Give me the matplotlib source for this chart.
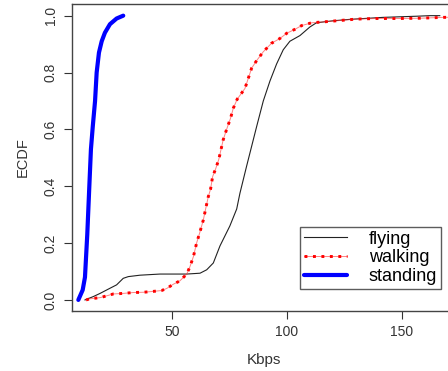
import matplotlib
matplotlib.use("Agg")
import matplotlib.pyplot as plt

plt.rcParams['font.family'] = ['Liberation Sans', 'DejaVu Sans']

# ECDF curves (Kbps, fraction)
standing_x = [9.0, 10.9, 11.9, 12.9, 13.8, 14.5, 15.3, 16.3, 17.0, 18.0, 19.2, 20.6, 22.8, 25.7, 28.6]
standing_y = [0.0, 0.035, 0.08, 0.23, 0.40, 0.53, 0.61, 0.70, 0.80, 0.87, 0.91, 0.94, 0.97, 0.99, 1.0]

flying_x = [11.9, 15.6, 18.5, 22.8, 25.7, 28.6, 30.8, 35.9, 44.6, 56.3, 62.1, 65.0, 67.9, 70.8,
            75.1, 78.1, 79.5, 82.4, 84.6, 86.8, 89.7, 92.6, 95.5, 98.4, 101.3, 105.7, 110.0,
            112.9, 120.2, 127.5, 142.0, 156.5, 162.4, 166.7]
flying_y = [0.0, 0.012, 0.023, 0.041, 0.053, 0.076, 0.082, 0.087, 0.091, 0.091, 0.094, 0.106, 0.13,
            0.19, 0.26, 0.32, 0.375, 0.47, 0.54, 0.61, 0.70, 0.77, 0.83, 0.88, 0.91, 0.93, 0.96,
            0.975, 0.982, 0.987, 0.994, 0.998, 1.0, 1.0]

walking_x = [12.4, 14.1, 18.5, 24.3, 28.6, 33.0, 37.4, 41.7, 45.3, 47.5, 50.4, 53.3, 56.3, 57.7,
             59.2, 60.6, 62.1, 63.5, 64.7, 65.7, 66.7, 67.6, 69.0, 70.3, 72.2, 73.7, 75.4, 76.6,
             78.3, 81.7, 84.6, 86.8, 89.7, 93.3, 97.0, 99.9, 103.5, 106.4, 110.8, 115.8, 121.7,
             130.4, 139.1, 149.3, 158.0, 168.2, 178.0]
walking_y = [0.0, 0.004, 0.008, 0.021, 0.023, 0.026, 0.027, 0.03, 0.033, 0.04, 0.055, 0.067, 0.091,
             0.117, 0.152, 0.2, 0.24, 0.28, 0.326, 0.363, 0.39, 0.434, 0.463, 0.495, 0.563, 0.6,
             0.639, 0.674, 0.706, 0.744, 0.815, 0.842, 0.873, 0.903, 0.92, 0.938, 0.952, 0.965,
             0.975, 0.978, 0.982, 0.988, 0.99, 0.99, 0.991, 0.994, 0.995]

x_ticks = [50, 100, 150]
y_ticks = [0.0, 0.2, 0.4, 0.6, 0.8, 1.0]

fig = plt.figure(figsize=(4.48, 3.71), dpi=100)
ax = fig.add_axes([0.160, 0.1617, 0.859, 0.8275])

h_fly, = ax.plot(flying_x, flying_y, color='#222222', lw=0.8)
h_walk_thin, = ax.plot(walking_x, walking_y, color='#ff3030', lw=0.7, alpha=0.6)
h_walk, = ax.plot(walking_x, walking_y, color='#ff0000', lw=2.1, linestyle=(0, (1, 1.9)))
h_stand, = ax.plot(standing_x, standing_y, color='#0000ff', lw=3.0, solid_capstyle='round')

ax.set_xlim(6.1, 174)
ax.set_ylim(-0.039, 1.041)

ax.set_xticks(x_ticks)
ax.set_xticklabels([str(v) for v in x_ticks])
ax.set_yticks(y_ticks)
ax.set_yticklabels([f"{v:.1f}" for v in y_ticks], rotation=90, va='center')
ax.tick_params(axis='both', direction='out', length=6, width=0.8, color='#333333',
               labelsize=10, labelcolor='#333333', pad=4)

for sp in ax.spines.values():
    sp.set_color('#444444')
    sp.set_linewidth(1.0)

ax.set_xlabel("Kbps", fontsize=11, color='#333333', labelpad=10)
ax.set_ylabel("ECDF", fontsize=10.5, color='#333333', labelpad=10)

leg = ax.legend([h_fly, (h_walk_thin, h_walk), h_stand], ["flying", "walking", "standing"],
                loc='upper left', bbox_to_anchor=(300 / 448, 1 - 227 / 371),
                bbox_transform=fig.transFigure, fontsize=13, frameon=True, fancybox=False,
                handlelength=2.4, handletextpad=1.2, borderpad=0.2, labelspacing=0.1,
                borderaxespad=0)
leg.get_frame().set_edgecolor('#333333')
leg.get_frame().set_linewidth(1.0)

fig.savefig("out.png", dpi=100)
